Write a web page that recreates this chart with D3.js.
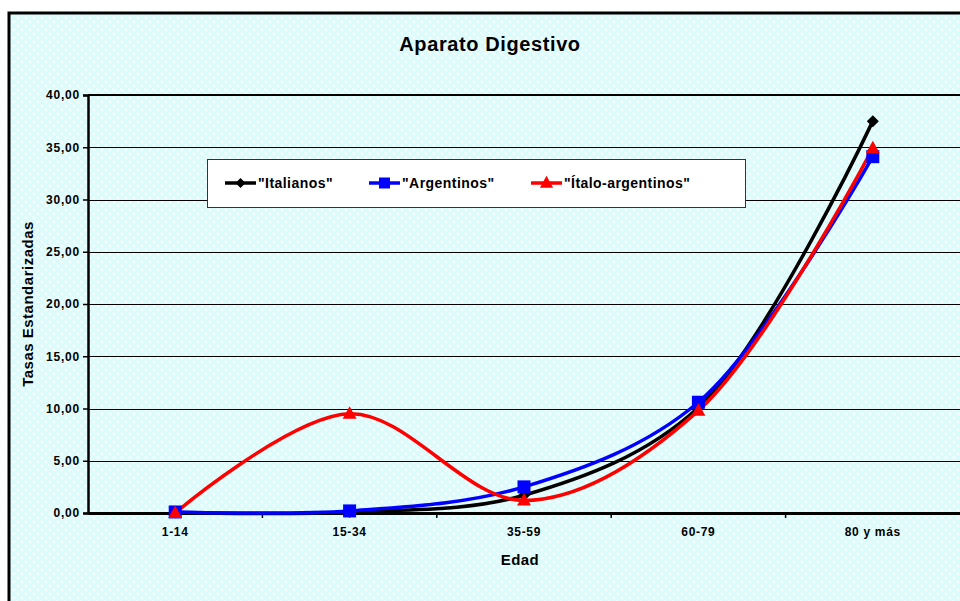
<!DOCTYPE html>
<html>
<head>
<meta charset="utf-8">
<script src="https://cdn.jsdelivr.net/npm/d3@7"></script>
<style>
  body { margin: 0; background: #fff; }
  svg text { font-family: Arial, "Liberation Sans", sans-serif; font-weight: bold; fill: #000; }
</style>
</head>
<body>
<svg id="chart" width="960" height="601"></svg>
<script>
const categories = ["1-14", "15-34", "35-59", "60-79", "80 y más"];
const italianos = [0.05, 0.1, 1.7, 10.1, 37.5];
const argentinos = [0.1, 0.2, 2.5, 10.6, 34.1];
const italoArgentinos = [0.0, 9.5, 1.2, 9.8, 34.9];
const yTicks = [0, 5, 10, 15, 20, 25, 30, 35, 40];

const seriesList = [
  { name: '"Italianos"', values: italianos, color: "#000000", marker: "diamond" },
  { name: '"Argentinos"', values: argentinos, color: "#0000ff", marker: "square" },
  { name: '"Ítalo-argentinos"', values: italoArgentinos, color: "#ff0000", marker: "triangle" }
];

const svg = d3.select("#chart");
const margin = { top: 95, right: 0, bottom: 88, left: 88 };
const width = +svg.attr("width");
const height = +svg.attr("height");
const innerWidth = width - margin.left - margin.right;
const innerHeight = height - margin.top - margin.bottom;

// background pattern (light cyan with white dots)
const defs = svg.append("defs");
const pat = defs.append("pattern")
  .attr("id", "bg")
  .attr("width", 8).attr("height", 8)
  .attr("patternUnits", "userSpaceOnUse");
pat.append("rect").attr("width", 8).attr("height", 8).attr("fill", "#dcfcfc");
pat.append("rect").attr("x", 0).attr("y", 0).attr("width", 1).attr("height", 1).attr("fill", "#ecffff");
pat.append("rect").attr("x", 4).attr("y", 4).attr("width", 1).attr("height", 1).attr("fill", "#ecffff");
[[2, 2], [6, 6]].forEach(([cx, cy]) => {
  pat.append("path")
    .attr("d", `M${cx},${cy - 1.5}L${cx + 1.5},${cy}L${cx},${cy + 1.5}L${cx - 1.5},${cy}Z`)
    .attr("fill", "#ffffff");
});

svg.append("rect")
  .attr("x", 9).attr("y", 13)
  .attr("width", 960).attr("height", 600)
  .attr("fill", "url(#bg)")
  .attr("stroke", "#000")
  .attr("stroke-width", 3);

svg.append("text")
  .attr("x", 490).attr("y", 51)
  .attr("text-anchor", "middle")
  .style("font-size", "20px")
  .style("letter-spacing", "0.6px")
  .text("Aparato Digestivo");

const xScale = d3.scaleBand().domain(categories).range([0, innerWidth]);
const yScale = d3.scaleLinear().domain([0, 40]).range([innerHeight, 0]);

const g = svg.append("g").attr("transform", `translate(${margin.left},${margin.top})`);

// gridlines
g.append("g").selectAll("line")
  .data(yTicks.filter(d => d > 0 && d < 40))
  .enter().append("line")
    .attr("x1", 0).attr("x2", innerWidth)
    .attr("y1", d => Math.round(yScale(d)) + 0.5)
    .attr("y2", d => Math.round(yScale(d)) + 0.5)
    .attr("stroke", "#000")
    .attr("stroke-width", 1);

g.append("line")
  .attr("x1", 0).attr("x2", innerWidth)
  .attr("y1", 0).attr("y2", 0)
  .attr("stroke", "#000").attr("stroke-width", 2);

const fmt = d => d3.format(".2f")(d).replace(".", ",");

const yAxis = d3.axisLeft(yScale).tickValues(yTicks).tickFormat(fmt).tickSize(5).tickPadding(4);
const yAxisG = g.append("g").call(yAxis);
yAxisG.select(".domain").attr("stroke-width", 2.5);
yAxisG.selectAll(".tick line").attr("stroke-width", 1.5);
yAxisG.selectAll("text")
  .style("font-size", "12px")
  .style("letter-spacing", "0.8px")
  .style("font-family", "Arial, 'Liberation Sans', sans-serif")
  .attr("font-weight", "bold")
  .attr("dx", 1);

const xAxis = d3.axisBottom(xScale).tickSize(0).tickPadding(14);
const xAxisG = g.append("g").attr("transform", `translate(0,${innerHeight})`).call(xAxis);
xAxisG.select(".domain").attr("stroke-width", 3);
xAxisG.selectAll("text")
  .style("font-size", "12px")
  .style("letter-spacing", "0.7px")
  .style("font-family", "Arial, 'Liberation Sans', sans-serif")
  .attr("font-weight", "bold");
// ticks between categories
xAxisG.selectAll(".sep")
  .data(categories.slice(1))
  .enter().append("line")
    .attr("class", "sep")
    .attr("x1", d => xScale(d)).attr("x2", d => xScale(d))
    .attr("y1", 0).attr("y2", 5)
    .attr("stroke", "#000").attr("stroke-width", 1.5);

svg.append("text")
  .attr("x", margin.left + innerWidth / 2 - 4).attr("y", 565)
  .attr("text-anchor", "middle")
  .style("font-size", "15px")
  .style("letter-spacing", "0.4px")
  .text("Edad");

svg.append("text")
  .attr("transform", `translate(33,${margin.top + innerHeight / 2}) rotate(-90)`)
  .attr("text-anchor", "middle")
  .style("font-size", "15px")
  .style("letter-spacing", "0.5px")
  .text("Tasas Estandarizadas");

const cx = c => xScale(c) + xScale.bandwidth() / 2;

const line = d3.line()
  .x((d, i) => cx(categories[i]))
  .y(d => yScale(d))
  .curve(d3.curveCatmullRom.alpha(0.5));

function markerPath(type, s) {
  if (type === "diamond") return `M0,${-s}L${s},0L0,${s}L${-s},0Z`;
  if (type === "square") return `M${-s},${-s}H${s}V${s}H${-s}Z`;
  return `M0,${-s * 1.2}L${s * 1.1},${s * 0.8}L${-s * 1.1},${s * 0.8}Z`;
}
const markerSize = { diamond: 6, square: 6.5, triangle: 6.3 };
const legendMarkerSize = { diamond: 5, square: 5.5, triangle: 6 };

seriesList.forEach(s => {
  g.append("path")
    .datum(s.values)
    .attr("fill", "none")
    .attr("stroke", s.color)
    .attr("stroke-width", 3.5)
    .attr("d", line);
});
seriesList.forEach(s => {
  g.append("g").selectAll("path")
    .data(s.values)
    .enter().append("path")
      .attr("transform", (d, i) => `translate(${cx(categories[i])},${yScale(d)})`)
      .attr("d", markerPath(s.marker, markerSize[s.marker]))
      .attr("fill", s.color);
});

// legend
const legend = svg.append("g").attr("transform", "translate(207,159)");
legend.append("rect")
  .attr("x", 0.5).attr("y", 0.5)
  .attr("width", 538).attr("height", 48)
  .attr("fill", "#fff")
  .attr("stroke", "#333").attr("stroke-width", 1);
const legendX = [18, 162, 324];
seriesList.forEach((s, i) => {
  const item = legend.append("g").attr("transform", `translate(${legendX[i]},24)`);
  item.append("line").attr("x1", 0).attr("x2", 31).attr("y1", 0).attr("y2", 0)
    .attr("stroke", s.color).attr("stroke-width", 3.5);
  item.append("path")
    .attr("transform", "translate(15.5,0)")
    .attr("d", markerPath(s.marker, legendMarkerSize[s.marker]))
    .attr("fill", s.color);
  item.append("text")
    .attr("x", 33).attr("y", 5)
    .style("font-size", "14px")
    .style("letter-spacing", "0.45px")
    .text(s.name);
});
</script>
</body>
</html>
